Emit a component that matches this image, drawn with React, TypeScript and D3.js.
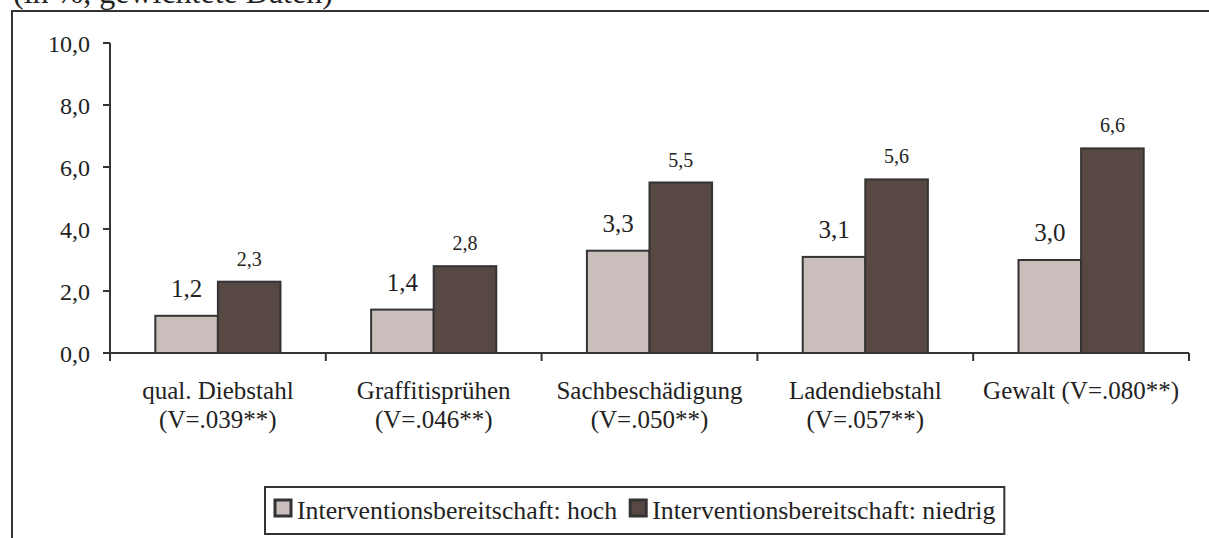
import React, { useEffect, useRef } from "react";
import * as d3 from "d3";

const categories: string[][] = [
  ["qual. Diebstahl", "(V=.039**)"],
  ["Graffitisprühen", "(V=.046**)"],
  ["Sachbeschädigung", "(V=.050**)"],
  ["Ladendiebstahl", "(V=.057**)"],
  ["Gewalt (V=.080**)"],
];
const hochValues = [1.2, 1.4, 3.3, 3.1, 3.0];
const niedrigValues = [2.3, 2.8, 5.5, 5.6, 6.6];
const seriesNames = ["Interventionsbereitschaft: hoch", "Interventionsbereitschaft: niedrig"];
const yTicks = [0, 2, 4, 6, 8, 10];
const title = "(in %, gewichtete Daten)";

const W = 1209;
const H = 538;
const FONT = "'Liberation Serif', 'Times New Roman', serif";
const INK = "#333333";
const COLORS = ["#c9bebb", "#574844"];

export default function App() {
  const ref = useRef<SVGSVGElement | null>(null);

  useEffect(() => {
    const svg = d3.select(ref.current);
    svg.selectAll("*").remove();

    const left = 110, right = 1189, top = 43, bottom = 353;
    const x0 = d3.scaleBand<number>().domain(d3.range(categories.length)).range([left, right]).padding(0);
    const barW = x0.bandwidth() * 0.29;
    const y = d3.scaleLinear().domain([0, 10]).range([bottom, top]);

    // title (cut at the top edge, as in the reference)
    svg.append("text").attr("x", 13).attr("y", 3).attr("font-family", FONT).attr("font-size", 32)
      .attr("fill", "#222").text(title);

    // frame
    svg.append("path").attr("d", `M12,${H} L12,11 L${W},11`).attr("fill", "none")
      .attr("stroke", INK).attr("stroke-width", 2);

    // bars
    const series = [hochValues, niedrigValues];
    series.forEach((vals, si) => {
      const g = svg.append("g");
      g.selectAll("rect").data(vals).enter().append("rect")
        .attr("x", (_d, i) => (x0(i) as number) + x0.bandwidth() / 2 - barW + si * barW)
        .attr("y", (d) => y(d))
        .attr("width", barW)
        .attr("height", (d) => y(0) - y(d))
        .attr("fill", COLORS[si])
        .attr("stroke", INK)
        .attr("stroke-width", 2);
      g.selectAll("text").data(vals).enter().append("text")
        .attr("x", (_d, i) => (x0(i) as number) + x0.bandwidth() / 2 - barW / 2 + si * barW)
        .attr("y", (d) => y(d) - (si === 0 ? 19 : 16))
        .attr("text-anchor", "middle")
        .attr("font-family", FONT)
        .attr("font-size", si === 0 ? 25 : 20)
        .attr("fill", "#222")
        .text((d) => d3.format(".1f")(d).replace(".", ","));
    });

    // y axis
    const ya = svg.append("g");
    ya.append("line").attr("x1", left).attr("x2", left).attr("y1", top).attr("y2", bottom)
      .attr("stroke", INK).attr("stroke-width", 2);
    yTicks.forEach((t) => {
      ya.append("line").attr("x1", left - 7).attr("x2", left).attr("y1", y(t)).attr("y2", y(t))
        .attr("stroke", INK).attr("stroke-width", 2);
      ya.append("text").attr("x", 90).attr("y", y(t) + 9).attr("text-anchor", "end")
        .attr("font-family", FONT).attr("font-size", 24).attr("fill", "#222")
        .text(d3.format(".1f")(t).replace(".", ","));
    });

    // x axis
    const xa = svg.append("g");
    xa.append("line").attr("x1", left).attr("x2", right).attr("y1", bottom).attr("y2", bottom)
      .attr("stroke", INK).attr("stroke-width", 2);
    d3.range(categories.length + 1).forEach((i) => {
      const xx = left + i * x0.bandwidth();
      xa.append("line").attr("x1", xx).attr("x2", xx).attr("y1", bottom).attr("y2", bottom + 8)
        .attr("stroke", INK).attr("stroke-width", 2);
    });
    categories.forEach((lines, i) => {
      const t = xa.append("text").attr("text-anchor", "middle").attr("font-family", FONT)
        .attr("font-size", 25).attr("fill", "#222");
      lines.forEach((ln, li) => {
        t.append("tspan").attr("x", (x0(i) as number) + x0.bandwidth() / 2).attr("y", 399 + li * 29).text(ln);
      });
    });

    // legend
    const lg = svg.append("g");
    const box = lg.append("rect").attr("x", 265).attr("y", 487).attr("width", 747).attr("height", 47)
      .attr("fill", "#fff").attr("stroke", INK).attr("stroke-width", 2);
    let cx = 274;
    seriesNames.forEach((name, si) => {
      lg.append("rect").attr("x", cx + 1).attr("y", 500).attr("width", 16).attr("height", 16)
        .attr("fill", COLORS[si]).attr("stroke", INK).attr("stroke-width", 3);
      const tx = lg.append("text").attr("x", cx + 23).attr("y", 519).attr("font-family", FONT)
        .attr("font-size", 25.8).attr("fill", "#222").text(name);
      const w = (tx.node() as SVGTextElement).getComputedTextLength();
      cx = cx + 23 + w + 12;
    });
    box.attr("width", cx - 12 + 9 - 265);
  }, []);

  return (
    <svg ref={ref} width={W} height={H}
      style={{ position: "absolute", left: 0, top: 0, background: "#fff", display: "block" }} />
  );
}
